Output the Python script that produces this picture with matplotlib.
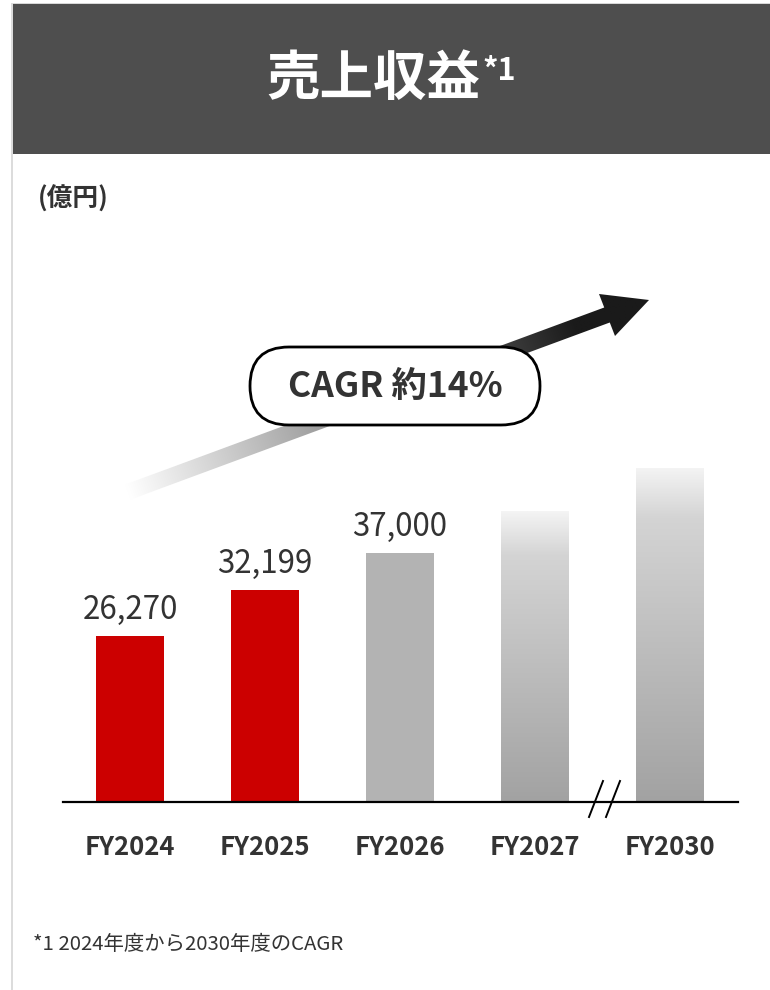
import numpy as np
import matplotlib
matplotlib.use("Agg")
import matplotlib.pyplot as plt
from matplotlib.patches import Rectangle, Polygon, FancyBboxPatch
from matplotlib.colors import LinearSegmentedColormap

plt.rcParams['font.family'] = ['Noto Sans CJK JP', 'DejaVu Sans']

# data
years = ['FY2024', 'FY2025', 'FY2026', 'FY2027', 'FY2030']
revenue = [26270, 32199, 37000, 42400, 48000]   # last two: bar height only, no label shown
labels = ['26,270', '32,199', '37,000', None, None]
styles = ['red', 'red', 'gray', 'grad', 'grad']

TXT = '#333333'
RED = '#cc0000'
GRAY = '#b3b3b3'

fig = plt.figure(figsize=(7.7, 9.9), dpi=100)

# background / decoration layer in pixel coords
bg = fig.add_axes([0, 0, 1, 1], zorder=0)
bg.set_xlim(0, 770)
bg.set_ylim(990, 0)
bg.axis('off')

bg.add_patch(Rectangle((10.5, 2.5), 760, 1.2, color='#d8d8d8', lw=0))
bg.add_patch(Rectangle((10.5, 2.5), 2.3, 990, color='#dcdcdc', lw=0))
bg.add_patch(Rectangle((12.8, 3.5), 760, 150, color='#4e4e4e', lw=0))

bg.text(480, 80, '売上収益', color='white', fontsize=38.5, fontweight='bold',
        ha='right', va='center')
bg.text(482, 71, '*1', color='white', fontsize=22, fontweight='bold',
        ha='left', va='center')
bg.text(38, 199, '(億円)', color=TXT, fontsize=18.5, fontweight='bold',
        ha='left', va='center')
bg.text(33, 945, '*1 2024年度から2030年度のCAGR', color=TXT, fontsize=14.7,
        ha='left', va='center')

# gradient arrow
s = np.array([128.0, 492.0])
b = np.array([607.0, 315.0])
u = (b - s) / np.linalg.norm(b - s)
n = np.array([-u[1], u[0]])
hw = 8.0
pts = [s - hw * n, b - hw * n, (599, 294), (649, 300), (615, 336), b + hw * n, s + hw * n]
arrow = Polygon(pts, closed=True, fc='none', ec='none')
bg.add_patch(arrow)
x0, x1, y0, y1 = 120, 655, 288, 505
xs = np.linspace(x0, x1, 540)
ys = np.linspace(y0, y1, 220)
X, Y = np.meshgrid(xs, ys)
t = ((X - s[0]) * u[0] + (Y - s[1]) * u[1]) / 478.0
t = np.clip(t, 0, 1)
g = (255 - 229 * t) / 255.0
img = np.dstack([g, g, g, np.ones_like(g)])
im = bg.imshow(img, extent=(x0, x1, y1, y0), origin='upper', aspect='auto',
               interpolation='bilinear', zorder=2)
im.set_clip_path(arrow)

pill = FancyBboxPatch((250, 347), 290, 78, boxstyle='round,pad=0,rounding_size=39',
                      fc='white', ec='black', lw=2, zorder=3)
bg.add_patch(pill)
bg.text(395, 387, 'CAGR 約14%', color=TXT, fontsize=25.5, fontweight='bold',
        ha='center', va='center', zorder=4)

# axis break marks
bg.plot([589, 603], [817, 781], color='black', lw=1.4, zorder=5)
bg.plot([606, 620], [817, 781], color='black', lw=1.4, zorder=5)

# chart
ax = fig.add_axes([62.5 / 770, (990 - 802) / 990, 675 / 770, 362 / 990], zorder=1)
ax.set_facecolor('none')

grad_cmap = LinearSegmentedColormap.from_list(
    'bar', [(0, '#a2a2a2'), (0.85, '#d4d4d4'), (1.0, '#f4f4f4')])

colors = {'red': RED, 'gray': GRAY, 'grad': 'none'}
bars = ax.bar(range(len(years)), revenue, width=0.5, bottom=0,
              color=[colors[k] for k in styles], lw=0)

ymin, ymax = 4700, 51600
for bar, kind in zip(bars, styles):
    if kind != 'grad':
        continue
    bx, bw, bh = bar.get_x(), bar.get_width(), bar.get_height()
    grad = np.linspace(0, 1, 256).reshape(-1, 1)
    gi = ax.imshow(grad, cmap=grad_cmap, origin='lower', aspect='auto',
                   extent=(bx, bx + bw, ymin, bh), zorder=2)
    gi.set_clip_path(bar)

for i, (v, lab) in enumerate(zip(revenue, labels)):
    if lab:
        ax.annotate(lab, xy=(i, v), xytext=(0, 7), textcoords='offset points',
                    ha='center', va='bottom', fontsize=22.5, color=TXT)

ax.set_xlim(-0.5, 4.5)
ax.set_ylim(ymin, ymax)
ax.set_xticks(range(len(years)), years, fontsize=18.5, fontweight='bold', color=TXT)
ax.tick_params(axis='x', length=0, pad=23)
ax.set_yticks([])
for side in ['top', 'left', 'right']:
    ax.spines[side].set_visible(False)
ax.spines['bottom'].set_linewidth(1.6)
ax.spines['bottom'].set_color('black')

fig.savefig('out.png', dpi=100)
